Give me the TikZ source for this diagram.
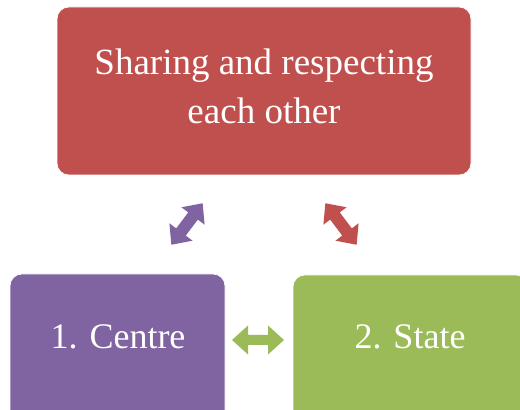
\documentclass[tikz,border=0pt]{standalone}
\usepackage{fontspec}
\setmainfont{Liberation Serif}
\definecolor{cred}{HTML}{C0504D}
\definecolor{cpurple}{HTML}{8064A2}
\definecolor{cgreen}{HTML}{9BBB59}
\tikzset{
  box/.style={rounded corners=12pt, draw=white, line width=0.6pt},
  lbl/.style={text=white, font=\fontsize{36}{49}\selectfont, inner sep=0pt},
}
\newcommand{\dblarrow}[5]{% name, center, angle, colour, shaft half-width
  \begin{scope}[shift={#2}, rotate=#3]
    \coordinate (#1) at (0,0);
    \fill[#4] (-26,0) -- (-10,14.5) -- (-10,#5) -- (10,#5) -- (10,14.5) -- (26,0)
      -- (10,-14.5) -- (10,-#5) -- (-10,-#5) -- (-10,-14.5) -- cycle;
  \end{scope}}
\begin{document}
\begin{tikzpicture}[x=1pt,y=1pt]
\useasboundingbox (0,0) rectangle (520,410);
\clip (0,0) rectangle (520,410);
% top box
\fill[cred, box] (57,235) rectangle (471,403);
\node[lbl, align=center, font=\fontsize{37}{49}\selectfont] (top) at (264,324) {Sharing and respecting\\each other};
% bottom left
\fill[cpurple, box] (10,-20) rectangle (225,136);
\node[lbl, anchor=base] (centre) at (118,61) {1. Centre};
% bottom right
\fill[cgreen, box] (293,-20) rectangle (528,135);
\node[lbl, anchor=base] (state) at (410,61) {2. State};
% arrows
\dblarrow{a1}{(258,70)}{0}{cgreen}{5}
\dblarrow{a2}{(187,186)}{53}{cpurple}{6}
\dblarrow{a3}{(341,186)}{-53}{cred}{6}
\end{tikzpicture}
\end{document}
